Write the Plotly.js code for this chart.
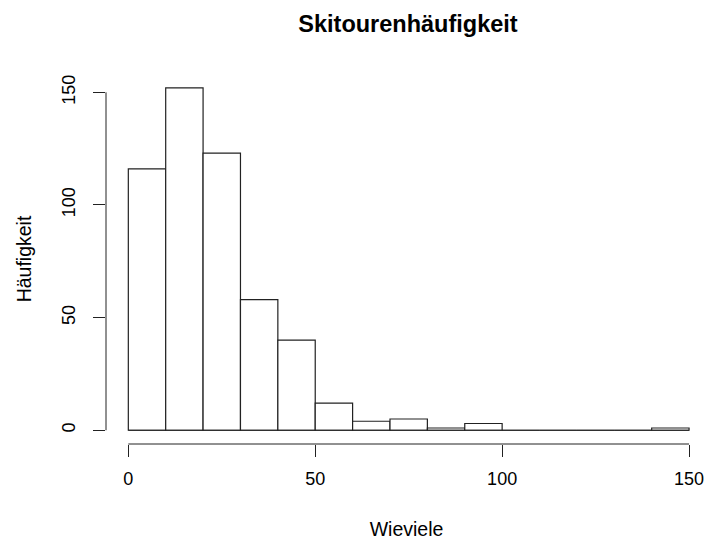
<!DOCTYPE html>
<html>
<head>
<meta charset="utf-8">
<script src="https://cdn.plot.ly/plotly-3.0.1.min.js"></script>
<style>html,body{margin:0;padding:0;background:#fff;}#chart{width:707px;height:540px;}</style>
</head>
<body>
<div id="chart"></div>
<script>
// Histogram bins (width 10) and counts
const binStarts = [0, 10, 20, 30, 40, 50, 60, 70, 80, 90, 100, 110, 120, 130, 140];
const binWidth = 10;
const counts = [116, 152, 123, 58, 40, 12, 4, 5, 1, 3, 0, 0, 0, 0, 1];
const xTicks = [0, 50, 100, 150];
const yTicks = [0, 50, 100, 150];
const titleText = 'Skitourenhäufigkeit';
const xTitle = 'Wieviele';
const yTitle = 'Häufigkeit';

const mids = binStarts.map(s => s + binWidth / 2);
const font = 'Liberation Sans, Arial, Helvetica, sans-serif';
const ink = '#222';

const trace = {
  type: 'bar',
  x: mids,
  y: counts,
  width: binStarts.map(() => binWidth),
  marker: {color: '#ffffff', line: {color: ink, width: 1.2}},
  hoverinfo: 'x+y'
};

const xMin = xTicks[0], xMax = xTicks[xTicks.length - 1];
const yMin = yTicks[0], yMax = yTicks[yTicks.length - 1];
const lastEdge = binStarts[binStarts.length - 1] + binWidth;

const layout = {
  width: 707, height: 540,
  margin: {l: 106, r: 0, t: 74, b: 96, pad: 0},
  paper_bgcolor: '#fff', plot_bgcolor: '#fff',
  showlegend: false,
  bargap: 0,
  font: {family: font, color: '#000', size: 18},
  title: {
    text: '<b>' + titleText + '</b>',
    font: {family: font, size: 23.5, color: '#000'},
    xref: 'paper', x: 0.5025, xanchor: 'center',
    yref: 'container', y: 0.956, yanchor: 'middle'
  },
  xaxis: {
    range: [-5.97, 154.8],
    tickvals: xTicks, ticktext: xTicks.map(String),
    ticks: 'outside', ticklen: 12, tickwidth: 1, tickcolor: ink,
    showgrid: false, zeroline: false, showline: false,
    tickfont: {size: 18, family: font, color: '#000'},
    ticklabelstandoff: 6,
    automargin: false,
    title: {text: xTitle, font: {size: 19.5, family: font, color: '#000'}, standoff: 34}
  },
  yaxis: {
    range: [-6.1, 158.13],
    tickvals: yTicks, ticktext: yTicks.map(String),
    tickangle: -90,
    ticks: 'outside', ticklen: 12, tickwidth: 1, tickcolor: ink,
    showgrid: false, zeroline: false, showline: false,
    tickfont: {size: 18, family: font, color: '#000'},
    ticklabelstandoff: 11,
    automargin: false,
    title: {text: yTitle, font: {size: 19.5, family: font, color: '#000'}, standoff: 21}
  },
  shapes: [
    // x axis line (from first to last tick, like R)
    {type: 'line', xref: 'x', yref: 'paper', x0: xMin, x1: xMax, y0: 0, y1: 0, line: {color: ink, width: 1}},
    // y axis line
    {type: 'line', xref: 'paper', yref: 'y', x0: 0, x1: 0, y0: yMin, y1: yMax, line: {color: ink, width: 1}},
    // histogram baseline (covers empty bins)
    {type: 'line', xref: 'x', yref: 'y', x0: binStarts[0], x1: lastEdge, y0: 0, y1: 0, line: {color: ink, width: 1.2}}
  ]
};

Plotly.newPlot('chart', [trace], layout, {displayModeBar: false, staticPlot: true});
</script>
</body>
</html>
